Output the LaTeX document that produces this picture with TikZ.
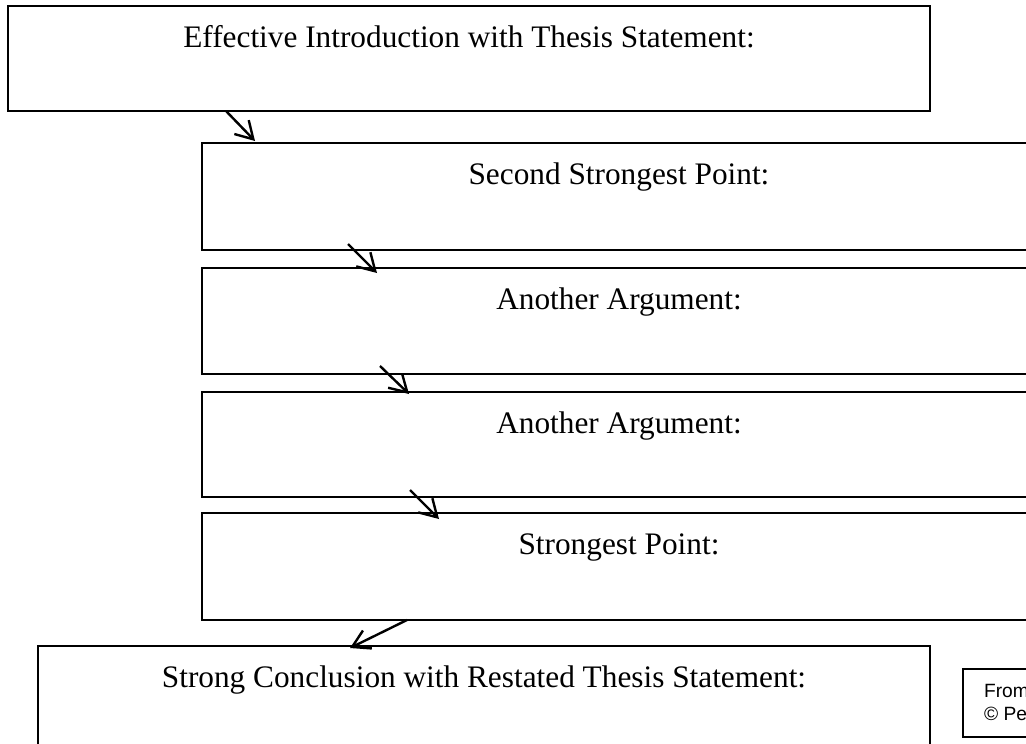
\documentclass[tikz,border=0pt]{standalone}
\usepackage{fontspec}
\setmainfont{Liberation Serif}
\newfontfamily\notefont{Liberation Sans}
\usetikzlibrary{arrows.meta}

\begin{document}
\begin{tikzpicture}[x=1pt, y=1pt, line width=2.2pt,
  box/.style={draw=black, rectangle, inner sep=0pt, outer sep=0pt, anchor=north west},
  boxtext/.style={anchor=base, inner sep=0pt, font=\fontsize{31.3}{36}\selectfont},
  notetext/.style={anchor=base west, inner sep=0pt, font=\notefont\fontsize{19.2}{22}\selectfont},
  flow/.style={line width=2.4pt, -{Straight Barb[length=17pt,width=20pt]}}]
\useasboundingbox (0,0) rectangle (1026,-744);
\clip (0,0) rectangle (1026,-744);
\node[box, minimum width=922pt, minimum height=105pt] (intro) at (8,-6) {};
\node[boxtext] (introtext) at (469,-47) {Effective Introduction with Thesis Statement:};
\node[box, minimum width=834pt, minimum height=107pt] (second) at (202,-143) {};
\node[boxtext] (secondtext) at (619,-184) {Second Strongest Point:};
\node[box, minimum width=834pt, minimum height=106pt] (third) at (202,-268) {};
\node[boxtext] (thirdtext) at (619,-309) {Another Argument:};
\node[box, minimum width=834pt, minimum height=105pt] (fourth) at (202,-392) {};
\node[boxtext] (fourthtext) at (619,-433) {Another Argument:};
\node[box, minimum width=834pt, minimum height=107pt] (strongest) at (202,-513) {};
\node[boxtext] (strongesttext) at (619,-554) {Strongest Point:};
\node[box, minimum width=892pt, minimum height=106pt] (concl) at (38,-646) {};
\node[boxtext] (concltext) at (484,-687) {Strong Conclusion with Restated Thesis Statement:};
\node[box, minimum width=140pt, minimum height=68pt] (note) at (963,-669) {};
\node[notetext] (notefrom) at (983,-697) {From};
\node[notetext] (notecopy) at (983,-720) {© Pe};
% arrows between the boxes
\draw[flow] ([xshift=218pt]intro.south west) -- ([xshift=53pt,yshift=2pt]second.north west);
\draw[flow] ([xshift=146pt,yshift=6pt]second.south west) -- ([xshift=175pt,yshift=-5pt]third.north west);
\draw[flow] ([xshift=178pt,yshift=8pt]third.south west) -- ([xshift=207pt,yshift=-2pt]fourth.north west);
\draw[flow] ([xshift=208pt,yshift=7pt]fourth.south west) -- ([xshift=237pt,yshift=-6pt]strongest.north west);
\draw[flow] ([xshift=205pt]strongest.south west) -- ([xshift=312pt,yshift=-2pt]concl.north west);
\end{tikzpicture}
\end{document}
